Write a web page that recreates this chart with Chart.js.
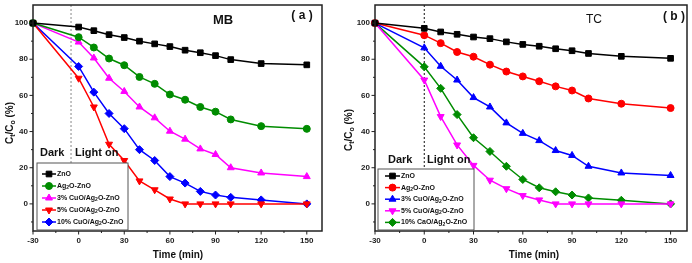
<!DOCTYPE html>
<html>
<head>
<meta charset="utf-8">
<script src="https://cdn.jsdelivr.net/npm/chart.js@4/dist/chart.umd.min.js"></script>
<style>
  html, body { margin: 0; padding: 0; background: #fff; }
  #wrap { position: relative; width: 692px; height: 263px; overflow: hidden; }
  .panel { position: absolute; top: 0; height: 263px; }
</style>
</head>
<body>
<div id="wrap">
  <div class="panel" style="left:0;width:336px"><canvas id="mbChart" width="336" height="263"></canvas></div>
  <div class="panel" style="left:336px;width:356px"><canvas id="tcChart" width="356" height="263"></canvas></div>
</div>
<script>
// time axis (min)
const times = [-30, 0, 10, 20, 30, 40, 50, 60, 70, 80, 90, 100, 120, 150];
const xTicks = [-30, 0, 30, 60, 90, 120, 150];
const xMinorTicks = [-15, 15, 45, 75, 105, 135];
const yTicks = [0, 20, 40, 60, 80, 100];
const yMinorTicks = [-10, 10, 30, 50, 70, 90];

const labels = ['ZnO', 'Ag_2O-ZnO', '3% CuO/Ag_2O-ZnO', '5% CuO/Ag_2O-ZnO', '10% CuO/Ag_2O-ZnO'];
const labelsTC = ['ZnO', 'Ag_2O-ZnO', '3% CuO/Ag_2O-ZnO', '5% CuO/Ag_2O-ZnO', '10% CaO/Ag_2O-ZnO'];

// (a) MB, Ct/Co (%)
const mbZnO   = [100, 97.8, 95.8, 93.6, 92.0, 90.0, 88.5, 87.0, 85.0, 83.6, 82.0, 79.8, 77.6, 76.9];
const mbAg2O  = [100, 92.2, 86.5, 80.4, 76.7, 70.2, 66.4, 60.5, 57.6, 53.6, 51.0, 46.7, 43.0, 41.5];
const mbCu3   = [100, 89.5, 80.7, 69.5, 62.2, 53.6, 47.6, 40.2, 35.8, 30.4, 27.3, 20.0, 17.1, 15.1];
const mbCu5   = [100, 69.5, 53.6, 33.0, 24.0, 12.7, 7.8, 2.7, 0, 0, 0, 0, 0, 0];
const mbCu10  = [100, 76.0, 61.8, 50.0, 41.6, 30.0, 24.0, 15.1, 11.5, 6.9, 4.9, 3.6, 2.2, 0];

// (b) TC, Ct/Co (%)
const tcZnO   = [100, 97.1, 95.1, 93.8, 92.3, 91.4, 89.6, 88.2, 87.2, 85.8, 84.7, 83.2, 81.6, 80.5];
const tcAg2O  = [100, 93.3, 88.9, 84.0, 81.4, 77.0, 73.2, 70.5, 67.8, 65.0, 62.7, 58.3, 55.4, 53.0];
const tcCu3   = [100, 86.3, 76.1, 68.5, 58.8, 53.6, 44.8, 39.0, 35.0, 29.5, 26.8, 20.8, 17.1, 15.7];
const tcCu5   = [100, 68.5, 48.3, 32.6, 21.3, 13.1, 8.4, 4.6, 2.2, 0, 0, 0, 0, 0];
const tcCu10  = [100, 75.8, 63.9, 49.4, 36.6, 29.0, 20.8, 13.5, 8.9, 6.7, 4.9, 3.3, 2.0, 0];

const FONT = '"Liberation Sans", Arial, sans-serif';

function series(label, values, color, style, rotation, radius) {
  return {
    label: label,
    data: times.map((t, i) => ({ x: t, y: values[i] })),
    borderColor: color,
    backgroundColor: color,
    borderWidth: 1.5,
    pointStyle: style,
    pointRotation: rotation || 0,
    pointRadius: radius || 4,
    pointBorderWidth: 1,
    tension: 0,
    clip: false
  };
}

// draws text where "_x" makes x a subscript
function richText(ctx, str, x, y, size, align) {
  const runs = [];
  for (let i = 0; i < str.length; i++) {
    if (str[i] === '_' && i + 1 < str.length) { runs.push([str[i + 1], true]); i++; }
    else if (runs.length && !runs[runs.length - 1][1]) runs[runs.length - 1][0] += str[i];
    else runs.push([str[i], false]);
  }
  const big = 'bold ' + size + 'px ' + FONT;
  const small = 'bold ' + Math.round(size * 0.65) + 'px ' + FONT;
  let total = 0;
  runs.forEach(r => { ctx.font = r[1] ? small : big; total += ctx.measureText(r[0]).width; });
  let cx = align === 'center' ? x - total / 2 : x;
  ctx.textAlign = 'left';
  ctx.textBaseline = 'middle';
  runs.forEach(r => {
    ctx.font = r[1] ? small : big;
    ctx.fillText(r[0], cx, r[1] ? y + size * 0.3 : y);
    cx += ctx.measureText(r[0]).width;
  });
}

const panelPlugin = {
  id: 'panel',
  beforeDatasetsDraw(chart, args, o) {
    const { ctx, chartArea: a } = chart;
    const px = chart.scales.x.getPixelForValue(o.lightOn);
    ctx.save();
    ctx.strokeStyle = o.dashColor;
    ctx.lineWidth = 1;
    ctx.setLineDash(o.dash);
    ctx.beginPath();
    ctx.moveTo(px, a.top);
    ctx.lineTo(px, a.bottom);
    ctx.stroke();
    ctx.restore();
  },
  afterDraw(chart, args, o) {
    const { ctx, chartArea: a } = chart;
    const sx = chart.scales.x, sy = chart.scales.y;
    ctx.save();
    // frame
    ctx.strokeStyle = '#222';
    ctx.lineWidth = 1.5;
    ctx.strokeRect(a.left, a.top, a.right - a.left, a.bottom - a.top);
    // outward ticks
    ctx.lineWidth = 1;
    ctx.beginPath();
    xTicks.forEach(v => { const p = sx.getPixelForValue(v); ctx.moveTo(p, a.bottom); ctx.lineTo(p, a.bottom + 3.5); });
    xMinorTicks.forEach(v => { const p = sx.getPixelForValue(v); ctx.moveTo(p, a.bottom); ctx.lineTo(p, a.bottom + 2); });
    yTicks.forEach(v => { const p = sy.getPixelForValue(v); ctx.moveTo(a.left, p); ctx.lineTo(a.left - 3.5, p); });
    yMinorTicks.forEach(v => { const p = sy.getPixelForValue(v); ctx.moveTo(a.left, p); ctx.lineTo(a.left - 2, p); });
    ctx.stroke();

    ctx.fillStyle = '#111';
    // titles
    ctx.font = o.titleWeight + ' ' + o.titleSize + 'px ' + FONT;
    ctx.textAlign = 'center';
    ctx.textBaseline = 'middle';
    ctx.fillText(o.title, o.titlePos[0], o.titlePos[1]);
    ctx.font = 'bold 12px ' + FONT;
    ctx.fillText(o.tag, o.tagPos[0], o.tagPos[1]);
    ctx.font = 'bold 11px ' + FONT;
    ctx.textAlign = 'left';
    ctx.fillText('Dark', o.darkPos[0], o.darkPos[1]);
    ctx.fillText('Light on', o.lightPos[0], o.lightPos[1]);
    // axis titles
    ctx.font = 'bold 10px ' + FONT;
    ctx.textAlign = 'center';
    ctx.fillText('Time (min)', o.xTitlePos[0], o.xTitlePos[1]);
    ctx.save();
    ctx.translate(o.yTitlePos[0], o.yTitlePos[1]);
    ctx.rotate(-Math.PI / 2);
    richText(ctx, 'C_t/C_o (%)', 0, 0, 10, 'center');
    ctx.restore();

    // legend
    const L = o.legend;
    ctx.strokeStyle = '#555';
    ctx.lineWidth = 1;
    ctx.fillStyle = '#fff';
    ctx.fillRect(L.box[0], L.box[1], L.box[2] - L.box[0], L.box[3] - L.box[1]);
    ctx.strokeRect(L.box[0], L.box[1], L.box[2] - L.box[0], L.box[3] - L.box[1]);
    chart.data.datasets.forEach((ds, i) => {
      const yy = L.top + i * L.step;
      ctx.strokeStyle = ds.borderColor;
      ctx.fillStyle = ds.backgroundColor;
      ctx.lineWidth = 1.5;
      ctx.beginPath();
      ctx.moveTo(L.line[0], yy);
      ctx.lineTo(L.line[1], yy);
      ctx.stroke();
      ctx.lineWidth = 1;
      Chart.helpers.drawPoint(ctx, { pointStyle: ds.pointStyle, rotation: ds.pointRotation, radius: ds.pointRadius, borderWidth: 1 },
        (L.line[0] + L.line[1]) / 2, yy);
      ctx.fillStyle = '#111';
      richText(ctx, ds.label, L.text, yy, 7, 'left');
    });
    ctx.restore();
  }
};

function baseOptions(yAxisWidth, padTop, padRight, deco) {
  return {
    responsive: false,
    animation: false,
    layout: { padding: { left: 0, right: padRight, top: padTop, bottom: 0 } },
    plugins: { legend: { display: false }, tooltip: { enabled: false }, panel: deco },
    scales: {
      x: {
        type: 'linear', min: -30, max: 160,
        grid: { display: false, drawTicks: false, tickLength: 0 }, border: { display: false },
        afterBuildTicks: s => { s.ticks = xTicks.map(v => ({ value: v })); },
        afterFit: s => { s.height = 32; s.paddingLeft = 0; s.paddingRight = 0; },
        ticks: { font: { size: 8, weight: 'bold', family: FONT }, color: '#222', padding: 5, maxRotation: 0 }
      },
      y: {
        min: -15, max: 110,
        grid: { display: false, drawTicks: false, tickLength: 0 }, border: { display: false },
        afterBuildTicks: s => { s.ticks = yTicks.map(v => ({ value: v })); },
        afterFit: s => { s.width = yAxisWidth; s.paddingTop = 0; s.paddingBottom = 0; },
        ticks: { font: { size: 8, weight: 'bold', family: FONT }, color: '#222', padding: 5 }
      }
    }
  };
}

new Chart(document.getElementById('mbChart'), {
  type: 'line',
  data: {
    datasets: [
      series(labels[0], mbZnO, '#000000', 'rect', 0, 4),
      series(labels[1], mbAg2O, '#008c00', 'circle', 0, 3.5),
      series(labels[2], mbCu3, '#ff00ff', 'triangle', 0, 4),
      series(labels[3], mbCu5, '#ff0000', 'triangle', 180, 4),
      series(labels[4], mbCu10, '#0000ff', 'rectRot', 0, 4)
    ]
  },
  options: baseOptions(33, 1, 14, {
    lightOn: -5, dash: [2, 2], dashColor: '#888',
    title: 'MB', titleSize: 13, titleWeight: 'bold', titlePos: [223, 20],
    tag: '( a )', tagPos: [302, 16],
    darkPos: [40, 153], lightPos: [75, 153],
    xTitlePos: [178, 255], yTitlePos: [10, 123],
    legend: { box: [37, 163, 128, 230], top: 174, step: 12, line: [42, 56], text: 57 }
  }),
  plugins: [panelPlugin]
});

new Chart(document.getElementById('tcChart'), {
  type: 'line',
  data: {
    datasets: [
      series(labelsTC[0], tcZnO, '#000000', 'rect', 0, 4),
      series(labelsTC[1], tcAg2O, '#ff0000', 'circle', 0, 3.5),
      series(labelsTC[2], tcCu3, '#0000ff', 'triangle', 0, 4),
      series(labelsTC[3], tcCu5, '#ff00ff', 'triangle', 180, 4),
      series(labelsTC[4], tcCu10, '#008c00', 'rectRot', 0, 4)
    ]
  },
  options: baseOptions(39, 3, 2, {
    lightOn: 0, dash: [2, 2], dashColor: '#111',
    title: 'TC', titleSize: 12, titleWeight: 'normal', titlePos: [258, 20],
    tag: '( b )', tagPos: [338, 17],
    darkPos: [52, 160], lightPos: [91, 160],
    xTitlePos: [198, 255], yTitlePos: [13, 130],
    legend: { box: [42, 169, 138, 230], top: 176, step: 11.6, line: [49, 64], text: 65 }
  }),
  plugins: [panelPlugin]
});
</script>
</body>
</html>
